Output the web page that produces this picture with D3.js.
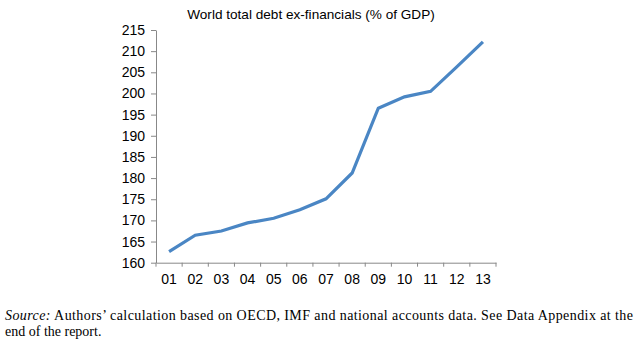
<!DOCTYPE html>
<html>
<head>
<meta charset="utf-8">
<script src="https://cdn.jsdelivr.net/npm/d3@7"></script>
<style>
  body { margin: 0; background: #fff; }
  svg { display: block; }
</style>
</head>
<body>
<div id="chart-area"></div>
<script>
const years = ["01", "02", "03", "04", "05", "06", "07", "08", "09", "10", "11", "12", "13"]
const debt = [162.6, 166.5, 167.5, 169.4, 170.5, 172.5, 175.1, 181.2, 196.5, 199.2, 200.5, 206.3, 212.2]
const yTicks = [160, 165, 170, 175, 180, 185, 190, 195, 200, 205, 210, 215]

const MARGIN = { LEFT: 156, TOP: 30 }
const WIDTH = 340
const HEIGHT = 232.7

const svg = d3.select("#chart-area")
  .append("svg")
  .attr("width", 640)
  .attr("height", 348)

svg.append("text")
  .attr("x", 311)
  .attr("y", 19)
  .attr("text-anchor", "middle")
  .style("font-family", "Liberation Sans, Arial, sans-serif")
  .style("font-size", "13.6px")
  .text("World total debt ex-financials (% of GDP)")

const g = svg.append("g")
  .attr("transform", `translate(${MARGIN.LEFT}, ${MARGIN.TOP})`)

const x = d3.scaleBand()
  .domain(years)
  .range([0, WIDTH])

const y = d3.scaleLinear()
  .domain([160, 215])
  .range([HEIGHT, 0])

// y axis
const yAxis = g.append("g")
  .call(d3.axisLeft(y).tickValues(yTicks).tickSize(5).tickSizeOuter(0).tickPadding(6))
yAxis.select(".domain").attr("stroke", "#888")
yAxis.selectAll("line").attr("stroke", "#888")
yAxis.selectAll("text")
  .style("font-family", "Liberation Sans, Arial, sans-serif")
  .style("font-size", "14px")
  .attr("fill", "#000")

// x axis, ticks at band edges
const xAxis = g.append("g")
  .attr("transform", `translate(0, ${HEIGHT})`)
  .call(d3.axisBottom(x).tickSize(0).tickPadding(11))
xAxis.select(".domain").attr("stroke", "#888")
xAxis.selectAll("text")
  .style("font-family", "Liberation Sans, Arial, sans-serif")
  .style("font-size", "14px")
  .attr("fill", "#000")
xAxis.selectAll("line.edge")
  .data(years.concat(["end"]))
  .enter()
  .append("line")
  .attr("class", "edge")
  .attr("x1", (d, i) => i * x.step())
  .attr("x2", (d, i) => i * x.step())
  .attr("y1", 0)
  .attr("y2", 4)
  .attr("stroke", "#888")

const line = d3.line()
  .x((d, i) => x(years[i]) + x.bandwidth() / 2)
  .y(d => y(d))

g.append("path")
  .datum(debt)
  .attr("d", line)
  .attr("fill", "none")
  .attr("stroke", "#4a86c4")
  .attr("stroke-width", 3.2)

// source note
const note = svg.append("g")
  .style("font-family", "Liberation Serif, 'Times New Roman', serif")
  .style("font-size", "14px")

const line1 = note.append("text")
  .attr("x", 5)
  .attr("y", 320)
  .attr("textLength", 628)
  .attr("lengthAdjust", "spacing")
line1.append("tspan").style("font-style", "italic").text("Source:")
line1.append("tspan").text(" Authors’ calculation based on OECD, IMF and national accounts data. See Data Appendix at the")

note.append("text")
  .attr("x", 5)
  .attr("y", 336)
  .text("end of the report.")
</script>
</body>
</html>
